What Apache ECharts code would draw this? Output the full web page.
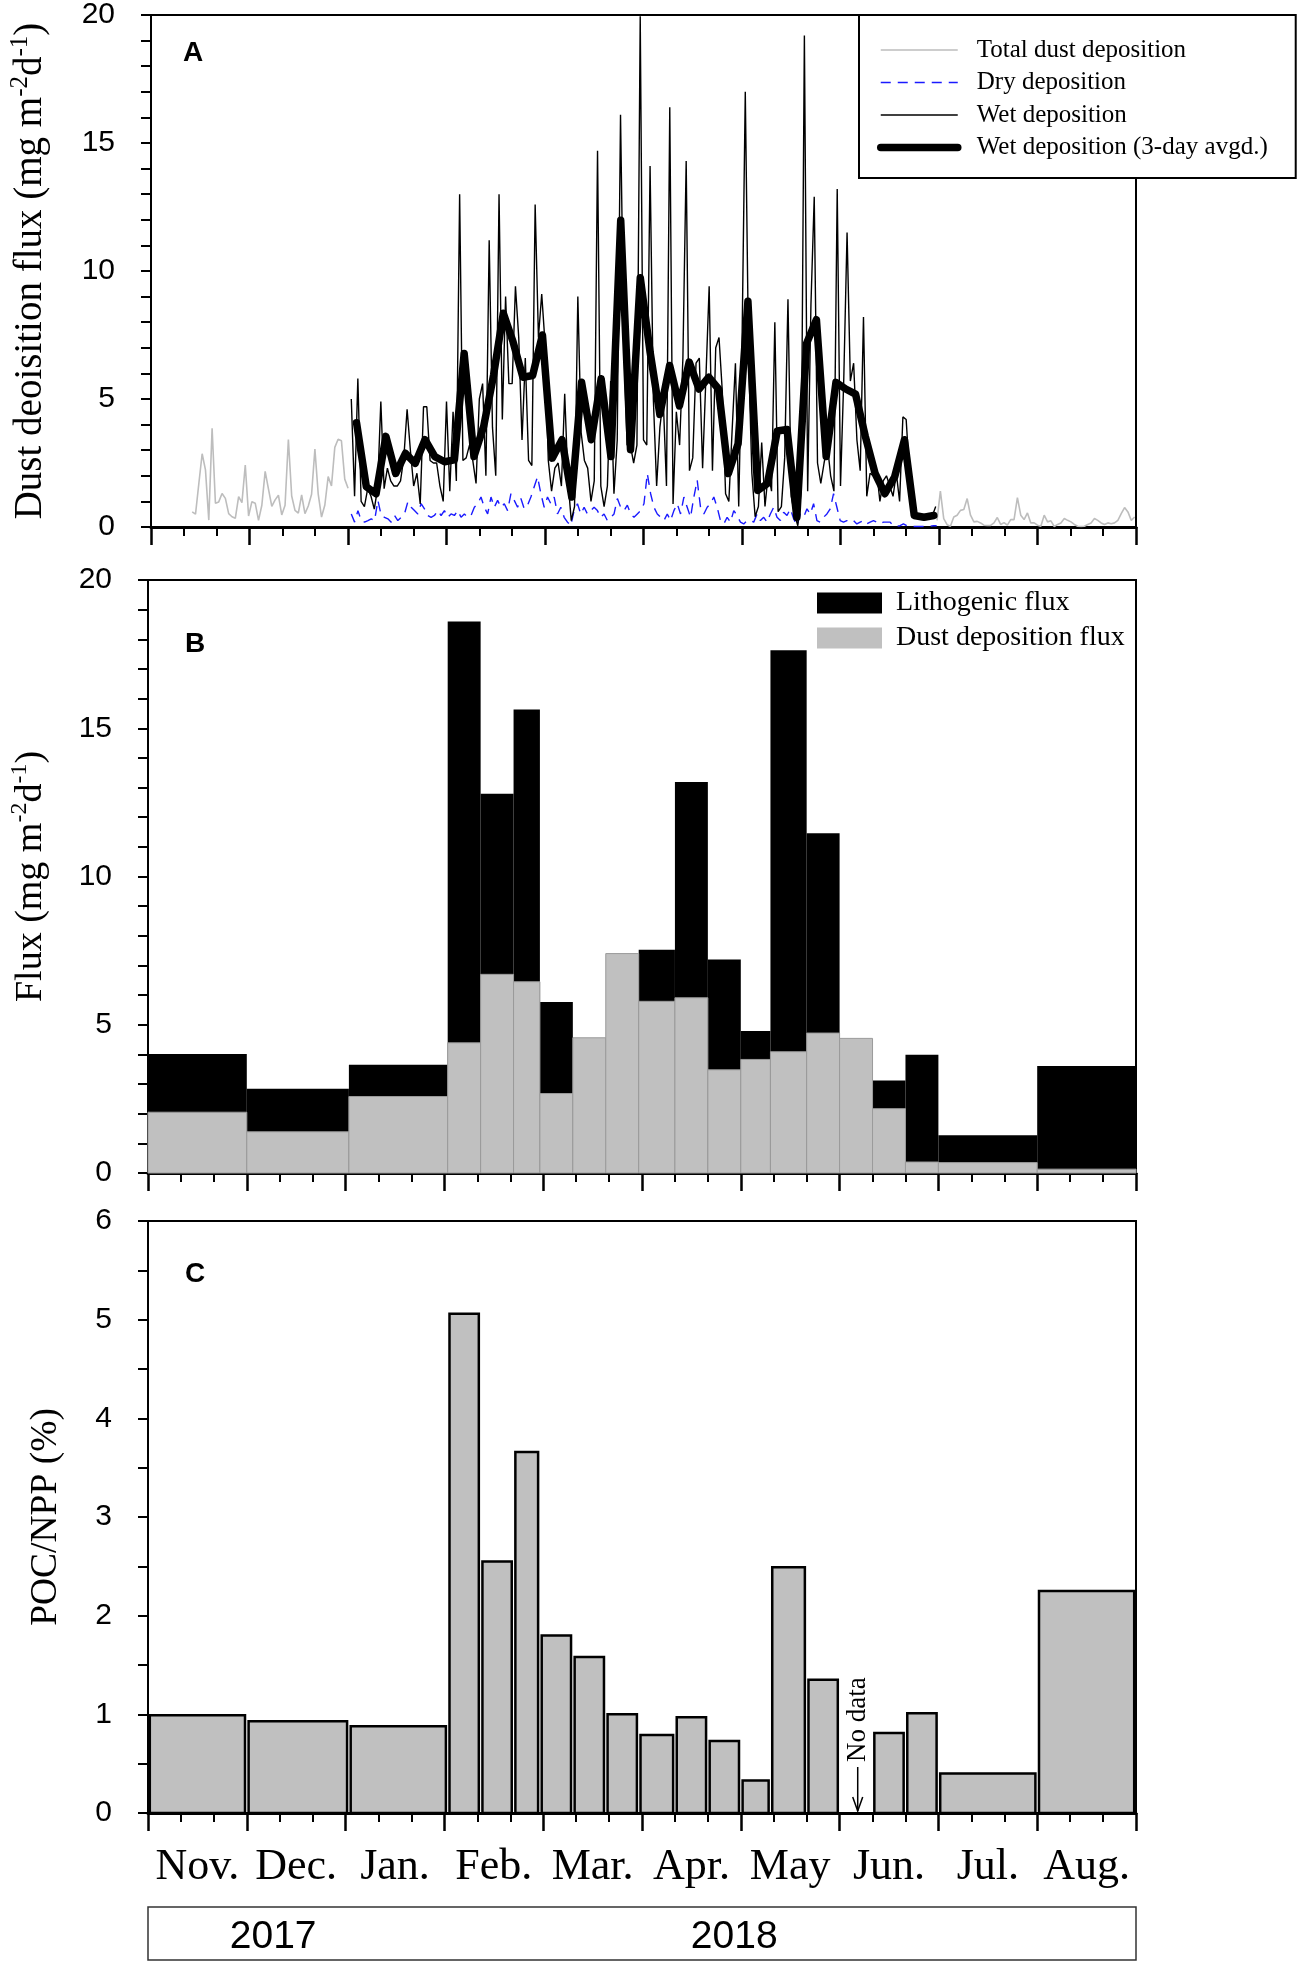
<!DOCTYPE html>
<html><head><meta charset="utf-8">
<script src="https://cdn.jsdelivr.net/npm/echarts@6/dist/echarts.min.js"></script>
<style>html,body{margin:0;padding:0;background:#fff}#c{width:1299px;height:1965px}</style>
</head><body><div id="c"></div>
<script>
// ---------- DATA ----------
// x = days since 1 Nov 2017 (each month tick = 30 days)
const monthLabels = ['Nov.','Dec.','Jan.','Feb.','Mar.','Apr.','May','Jun.','Jul.','Aug.'];
const yearLabels = ['2017','2018'];
const yearLabelDays = [38, 178];

// Panel A
const totalDustEarlyStart = 12.55, totalDustEarlyStep = 1.01;
const totalDustEarly = [0.59,0.5,1.7,2.86,2.23,0.27,3.86,0.93,0.98,1.31,1.12,0.52,0.4,0.34,1.19,0.95,2.42,0.43,0.99,0.93,0.26,0.85,2.17,1.48,0.81,1.06,1.24,0.47,0.85,3.42,1.21,0.65,0.54,1.25,0.52,0.82,1.28,3.04,1.28,0.39,0.86,1.97,1.6,3.11,3.43,3.37,1.87,1.51];
const totalDustLateStart = 239.4, totalDustLateStep = 1.02;
const totalDustLate = [0.26,1.4,0.33,0.09,0.03,0.39,0.46,0.65,0.68,1.11,0.46,0.2,0.22,0.16,0.07,0.06,0.06,0.16,0.37,0.1,0.17,0.07,0.29,0.29,1.15,0.46,0.29,0.55,0.16,0.16,0.07,0.03,0.46,0.2,0.24,0.02,0.1,0.16,0.33,0.26,0.2,0.1,0.03,0.02,0.03,0.1,0.16,0.33,0.26,0.16,0.1,0.16,0.13,0.16,0.26,0.52,0.76,0.59,0.26,0.39];
const dryStart = 61, dryStep = 1.013;
const dryDeposition = [0.51,0.19,0.64,0.25,0.19,0.25,0.32,0.25,1.04,0.45,0.38,0.32,0.19,0.45,0.25,0.38,0.51,0.98,0.77,0.64,0.51,0.91,0.71,0.45,0.38,0.45,0.64,0.45,0.64,0.38,0.51,0.45,0.64,0.38,0.51,0.38,0.45,0.77,0.91,1.17,0.77,0.51,1.17,0.77,1.04,0.77,0.91,0.64,1.30,1.04,0.77,1.11,0.71,0.85,1.17,1.57,1.96,1.30,0.77,
 1.17,0.91,1.17,0.51,0.77,0.38,0.19,0.05,0.64,0.91,0.51,0.77,0.51,0.64,0.77,0.64,0.38,0.51,0.25,0.38,0.51,1.11,0.77,0.64,0.85,0.51,0.38,0.51,0.64,0.91,2.09,1.30,0.77,0.51,0.38,0.25,0.51,0.25,0.64,0.91,0.51,1.17,0.77,0.38,1.17,1.83,0.77,0.51,0.77,0.91,1.17,0.77,0.25,0.12,0.38,0.19,0.64,0.45,0.19,0.12,0.25,
 0.25,0.19,0.51,0.25,0.38,0.19,0.51,0.77,0.38,0.25,0.58,0.45,0.71,0.32,0.05,0.51,0.38,0.71,0.51,0.91,0.25,0.19,0.38,0.51,0.71,1.30,0.77,0.25,0.19,0.25,0.19,0.25,0.12,0.19,0.25,0.12,0.19,0.25,0.19,0.12,0.19,0.19,0.19,0.05,0.03,0.05,0.12,0.05,0.03,0.02,0.02,0.02,0.02,0.03,0.03,0.05,0.05];
const wetStart = 61, wetStep = 1;
const wetDeposition = [5.0,1.2,5.8,1.0,0.8,1.5,1.2,0.7,1.5,4.9,1.5,2.3,1.8,1.6,1.6,1.8,2.7,4.6,3.0,1.6,2.1,0.9,4.7,4.7,2.6,2.5,2.5,1.6,1.0,4.9,1.4,4.5,1.8,13.0,2.6,2.7,3.2,2.6,1.7,5.0,5.6,2.0,11.2,3.9,2.0,13.0,4.2,9.0,5.6,5.6,9.4,7.4,3.4,6.6,2.6,2.4,12.6,7.4,9.1,7.2,
 2.6,1.4,2.3,2.5,1.6,5.2,1.8,0.25,0.8,9.0,3.7,2.6,2.3,1.0,1.8,14.7,1.6,0.8,1.6,5.7,1.3,3.4,16.1,7.2,3.2,3.2,2.5,3.2,19.95,3.4,3.2,14.1,5.0,1.6,3.9,5.0,1.6,16.4,0.9,4.5,3.2,6.6,14.3,2.2,2.7,6.4,6.6,2.3,5.8,9.4,2.2,7.0,7.4,5.3,1.3,1.0,3.8,6.4,0.8,7.1,17.0,
 6.7,2.1,0.4,0.8,3.3,0.8,2.1,1.4,8.0,0.6,0.8,2.7,8.9,1.2,0.5,0.05,1.4,19.2,1.4,8.7,12.9,2.5,1.7,2.5,3.2,2.0,1.4,13.2,1.6,5.8,11.5,5.7,6.4,3.4,2.2,8.2,1.2,2.1,2.0,2.2,1.0,1.8,2.0,1.6,1.2,2.1,1.0,4.3,4.2,2.1,0.5,0.4,0.4,0.3,0.3,0.4,0.45,0.8];
const wet3Start = 62.6, wet3Step = 2.98;
const wet3DayAvg = [4.07,1.57,1.30,3.54,2.09,2.88,2.49,3.41,2.75,2.55,2.62,6.78,2.75,3.94,5.92,8.35,7.23,5.85,5.92,7.50,
 2.69,3.41,1.17,5.65,3.41,5.79,2.75,11.98,3.02,9.74,6.84,4.40,6.31,4.73,6.44,5.39,5.85,5.39,2.09,3.26,8.82,
 1.43,1.70,3.75,3.81,0.38,7.17,8.10,2.75,5.65,5.39,5.19,3.54,2.09,1.30,1.96,3.41,0.45,0.38,0.45];

// Panels B and C: trap sampling periods (days)
const periodStart = [0,30,61,91,101,111,119,129,139,149,160,170,180,189,200,210,220,230,240,270];
const periodEnd   = [30,61,91,101,111,119,129,139,149,160,170,180,189,200,210,220,230,240,270,300];
const lithogenicFlux = [4.01,2.84,3.65,18.6,12.79,15.63,5.77,null,null,7.53,13.19,7.2,4.79,17.63,11.46,null,3.12,3.99,1.27,3.61];
const dustDepositionFlux = [2.05,1.39,2.58,4.39,6.70,6.45,2.68,4.56,7.40,5.79,5.91,3.48,3.83,4.09,4.72,4.54,2.17,0.37,0.35,0.13];
const pocNpp = [0.99,0.93,0.88,5.06,2.55,3.66,1.80,1.58,1.00,0.79,0.97,0.73,0.33,2.49,1.35,null,0.81,1.01,0.40,2.25];
const noDataDay = 215.5;

// ---------- BUILD ----------
const pts = (s, st, vals) => vals.map((v, i) => [s + i * st, v]);
const totalDustData = pts(totalDustEarlyStart, totalDustEarlyStep, totalDustEarly)
  .concat([[150, '-']])
  .concat(pts(totalDustLateStart, totalDustLateStep, totalDustLate));
const periods = (vals) => vals.map((v, i) => [periodStart[i], periodEnd[i], v]).filter(d => d[2] != null);

function rectRender(fill, stroke, lw, inset) {
  return function (params, api) {
    const v = api.value(2);
    const p0 = api.coord([api.value(0), v]);
    const p1 = api.coord([api.value(1), 0]);
    return { type: 'rect',
      shape: { x: p0[0] + inset, y: p0[1], width: p1[0] - p0[0] - 2 * inset, height: p1[1] - p0[1] },
      style: { fill: fill, stroke: stroke, lineWidth: lw } };
  };
}

const serif = 'Liberation Serif';
const sans = 'Liberation Sans';
const GL = 148, GW = 988;
const grids = [
  { left: GL, top: 14, width: GW, height: 513 },
  { left: GL, top: 580, width: GW, height: 593 },
  { left: GL, top: 1221, width: GW, height: 592 }
].map(g => Object.assign(g, { show: true, borderColor: '#000', borderWidth: 2, backgroundColor: 'transparent' }));

const xVal = (i) => ({
  gridIndex: i, type: 'value', min: 0, max: 300, interval: 30,
  axisLine: { onZero: false, lineStyle: { color: '#000', width: 3 } },
  axisTick: { length: 18, lineStyle: { color: '#000', width: 2.5 } },
  minorTick: { show: true, splitNumber: 3, length: 9, lineStyle: { color: '#000', width: 2 } },
  axisLabel: { show: false }, splitLine: { show: false }, minorSplitLine: { show: false }
});
const yVal = (i, max, interval, split, name, gap, fs) => ({
  gridIndex: i, type: 'value', min: 0, max: max, interval: interval,
  axisLine: { show: true, lineStyle: { color: '#000', width: 2 } },
  axisTick: { show: true, length: 10, lineStyle: { color: '#000', width: 2 } },
  minorTick: { show: true, splitNumber: split, length: 10, lineStyle: { color: '#000', width: 2 } },
  splitLine: { show: false }, minorSplitLine: { show: false },
  axisLabel: { fontFamily: sans, fontSize: 30, color: '#000', margin: 36 },
  name: name, nameLocation: 'middle', nameGap: gap,
  nameTextStyle: { fontFamily: serif, fontSize: fs, color: '#000', lineHeight: 46,
    rich: { s: { fontFamily: serif, fontSize: Math.round(fs * 0.64), lineHeight: Math.round(fs * 0.64), verticalAlign: 'top', color: '#000' } } }
});

const chart = echarts.init(document.getElementById('c'), null, { renderer: 'canvas' });
chart.setOption({
  animation: false,
  backgroundColor: '#fff',
  grid: grids,
  xAxis: [xVal(0), xVal(1), xVal(2), {
    gridIndex: 2, type: 'category', data: monthLabels, position: 'bottom', boundaryGap: true,
    axisLine: { show: false }, axisTick: { show: false }, splitLine: { show: false },
    axisLabel: { interval: 0, fontFamily: serif, fontSize: 44, color: '#000', margin: 32 }
  }],
  yAxis: [
    yVal(0, 20, 5, 5, 'Dust deoisition flux (mg m{s|-2}d{s|-1})', 97, 39),
    yVal(1, 20, 5, 5, 'Flux (mg m{s|-2}d{s|-1})', 94, 38),
    yVal(2, 6, 1, 2, 'POC/NPP (%)', 79, 37.5)
  ],
  legend: [{
    data: ['Total dust deposition', 'Dry deposition', 'Wet deposition', 'Wet deposition (3-day avgd.)'],
    orient: 'vertical', left: 859, top: 15, padding: [22.5, 28, 18, 18], itemGap: 7.5,
    itemWidth: 77, itemHeight: 14, borderColor: '#000', borderWidth: 2, borderRadius: 0,
    backgroundColor: '#fff', selectedMode: false,
    itemStyle: { opacity: 0 },
    lineStyle: { width: 'inherit' },
    textStyle: { fontFamily: serif, fontSize: 25, lineHeight: 25, color: '#000', padding: [0, 0, 0, 14] }
  }, {
    data: [{ name: 'Lithogenic flux', icon: 'rect' }, { name: 'Dust deposition flux', icon: 'rect' }],
    orient: 'vertical', left: 817, top: 589, padding: 0, itemGap: 7,
    itemWidth: 65, itemHeight: 21, selectedMode: false,
    textStyle: { fontFamily: serif, fontSize: 28, lineHeight: 28, color: '#000', padding: [0, 0, 0, 9] }
  }],
  series: [
    { name: 'Total dust deposition', type: 'line', xAxisIndex: 0, yAxisIndex: 0, data: totalDustData,
      symbol: 'none', connectNulls: false, color: '#bdbdbd', lineStyle: { color: '#bdbdbd', width: 1.6 }, z: 2 },
    { name: 'Dry deposition', type: 'line', xAxisIndex: 0, yAxisIndex: 0, data: pts(dryStart, dryStep, dryDeposition),
      symbol: 'none', color: '#1a1aff', lineStyle: { color: '#1a1aff', width: 1.4, type: [10, 7] }, z: 3 },
    { name: 'Wet deposition', type: 'line', xAxisIndex: 0, yAxisIndex: 0, data: pts(wetStart, wetStep, wetDeposition),
      symbol: 'none', color: '#000', lineStyle: { color: '#000', width: 1.4 }, z: 4 },
    { name: 'Wet deposition (3-day avgd.)', type: 'line', xAxisIndex: 0, yAxisIndex: 0, data: pts(wet3Start, wet3Step, wet3DayAvg),
      symbol: 'none', color: '#000', lineStyle: { color: '#000', width: 7.5, cap: 'round', join: 'round' }, z: 5 },
    { name: 'Lithogenic flux', type: 'custom', xAxisIndex: 1, yAxisIndex: 1, data: periods(lithogenicFlux),
      encode: { x: [0, 1], y: 2 }, itemStyle: { color: '#000' }, renderItem: rectRender('#000', null, 0, 0), z: 2 },
    { name: 'Dust deposition flux', type: 'custom', xAxisIndex: 1, yAxisIndex: 1, data: periods(dustDepositionFlux),
      encode: { x: [0, 1], y: 2 }, itemStyle: { color: '#c0c0c0' }, renderItem: rectRender('#c0c0c0', '#9a9a9a', 1, 0), z: 3 },
    { name: 'POC/NPP', type: 'custom', xAxisIndex: 2, yAxisIndex: 2, data: periods(pocNpp),
      encode: { x: [0, 1], y: 2 }, itemStyle: { color: '#c0c0c0' }, renderItem: rectRender('#c0c0c0', '#000', 2.5, 1.8), z: 3 }
  ]
});

// ---------- ANNOTATIONS ----------
const px = (g, d, v) => chart.convertToPixel({ gridIndex: g }, [d, v]);
const left = px(2, 0, 0), right = px(2, 300, 0);
const nd = px(2, noDataDay, 0);
const letterFont = { fontFamily: sans, fontWeight: 'bold', fontSize: 28, fill: '#000', textVerticalAlign: 'middle' };
chart.setOption({
  graphic: [
    { type: 'text', left: 183, top: 39, style: Object.assign({ text: 'A' }, letterFont) },
    { type: 'text', left: 185, top: 630, style: Object.assign({ text: 'B' }, letterFont) },
    { type: 'text', left: 185, top: 1260, style: Object.assign({ text: 'C' }, letterFont) },
    { type: 'rect', shape: { x: left[0], y: 1907, width: right[0] - left[0], height: 53 },
      style: { fill: 'none', stroke: '#333', lineWidth: 1.5 } },
    { type: 'text', style: { x: px(2, yearLabelDays[0], 0)[0], y: 1937, text: yearLabels[0], fontFamily: sans, fontSize: 39,
      fill: '#000', textAlign: 'center', textVerticalAlign: 'middle' } },
    { type: 'text', style: { x: px(2, yearLabelDays[1], 0)[0], y: 1937, text: yearLabels[1], fontFamily: sans, fontSize: 39,
      fill: '#000', textAlign: 'center', textVerticalAlign: 'middle' } },
    { type: 'text', x: nd[0], y: nd[1] - 51, rotation: Math.PI / 2,
      style: { x: 0, y: 0, text: 'No data', fontFamily: serif, fontSize: 27, fill: '#000', textAlign: 'left', textVerticalAlign: 'middle' } },
    { type: 'polyline', shape: { points: [[nd[0], nd[1] - 46], [nd[0], nd[1] - 2]] }, style: { stroke: '#000', lineWidth: 1.5 } },
    { type: 'polyline', shape: { points: [[nd[0] - 5, nd[1] - 16], [nd[0], nd[1] - 2], [nd[0] + 5, nd[1] - 16]] },
      style: { stroke: '#000', lineWidth: 1.5, fill: 'none' } }
  ]
});
</script></body></html>
